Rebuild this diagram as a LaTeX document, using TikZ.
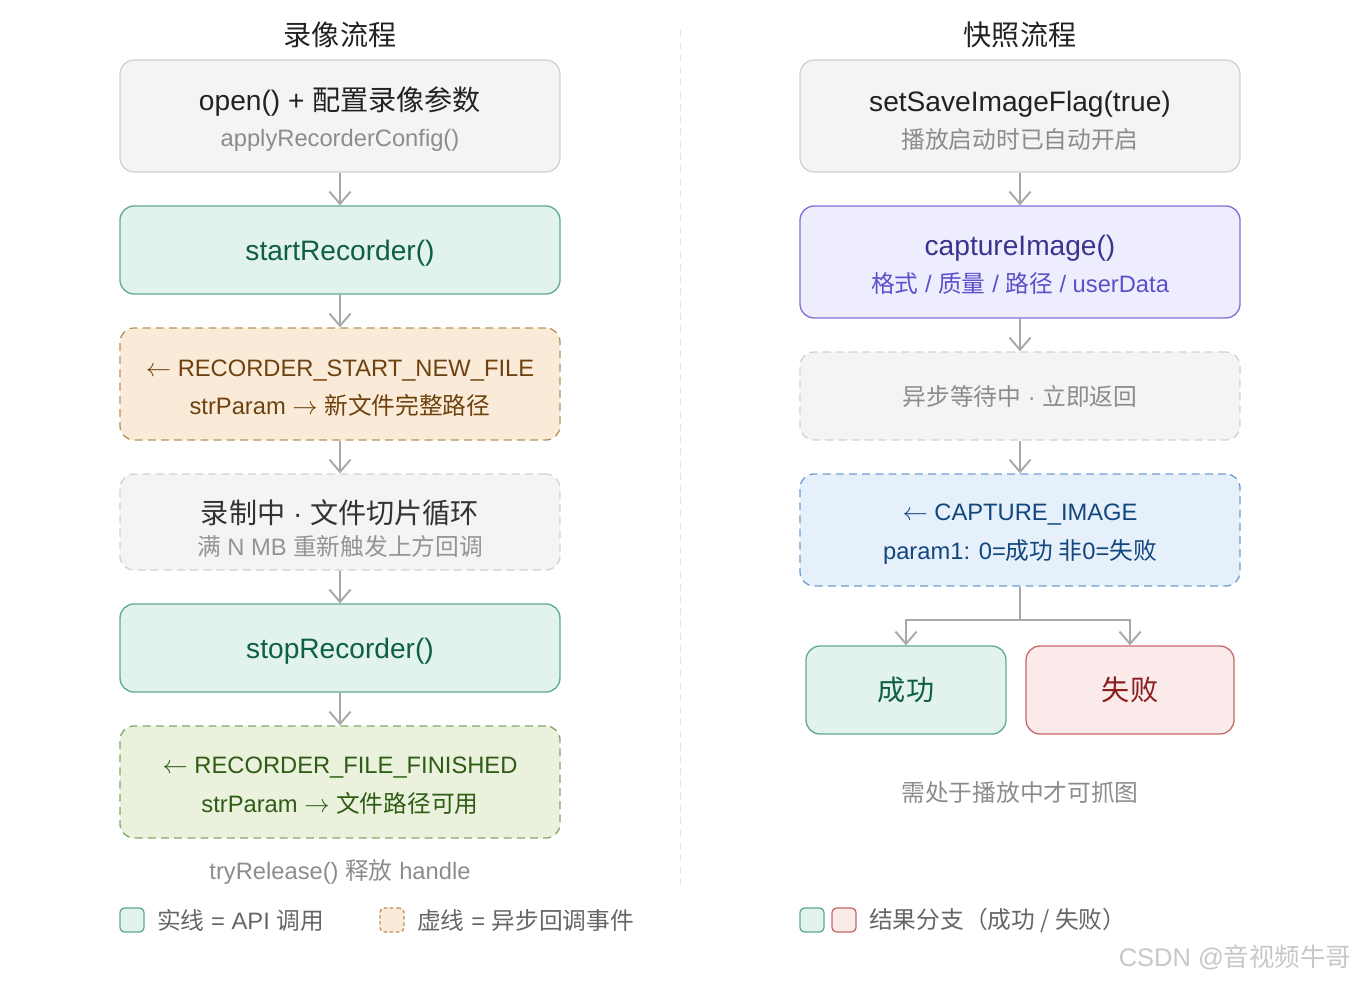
\documentclass[tikz,border=0pt]{standalone}
\usepackage{fontspec}
\setmainfont{Liberation Sans}
\newfontfamily\zhfont{Noto Sans CJK SC}
\newcommand{\zh}[1]{{\zhfont #1}}
\newcommand{\mainsize}{\fontsize{16}{19}\selectfont}
\newcommand{\subsize}{\fontsize{13.5}{16}\selectfont}
\newcommand{\topstrut}[1]{\rule{0pt}{#1}}
\usepackage{xcolor}
\definecolor{fgray}{HTML}{F4F4F2}
\definecolor{dgray}{HTML}{D2D2CF}
\definecolor{tdark}{HTML}{222222}
\definecolor{tgray}{HTML}{8C8C8C}
\definecolor{fteal}{HTML}{E1F3EC}
\definecolor{dteal}{HTML}{5FAA90}
\definecolor{tteal}{HTML}{0F5E47}
\definecolor{forange}{HTML}{FAEBD8}
\definecolor{dorange}{HTML}{B8925E}
\definecolor{torange}{HTML}{6E4210}
\definecolor{folive}{HTML}{EAF2DD}
\definecolor{dolive}{HTML}{82A865}
\definecolor{tolive}{HTML}{2E5C14}
\definecolor{fpurple}{HTML}{EEEDFD}
\definecolor{dpurple}{HTML}{7C70D6}
\definecolor{tpurple}{HTML}{3A3390}
\definecolor{spurple}{HTML}{5B50CC}
\definecolor{fblue}{HTML}{E6F0FB}
\definecolor{dblue}{HTML}{6E9ED2}
\definecolor{tblue}{HTML}{12467E}
\definecolor{fred}{HTML}{FBEAEA}
\definecolor{dred}{HTML}{C46A6A}
\definecolor{tred}{HTML}{8A1C1C}
\definecolor{arrgray}{HTML}{A8A8A8}
\usetikzlibrary{arrows.meta}

\begin{document}
\begin{tikzpicture}[
    apibox/.style={rectangle, rounded corners=8pt, draw=dteal, fill=fteal, line width=0.75pt,
                   minimum width=8.8cm, minimum height=1.76cm, align=center,
                   font=\mainsize, text=tteal},
    plainbox/.style={rectangle, rounded corners=8pt, draw=dgray, fill=fgray, line width=0.75pt,
                   minimum width=8.8cm, minimum height=2.24cm, align=center,
                   font=\mainsize, text=tdark},
    cbbox/.style={rectangle, rounded corners=8pt, dash pattern=on 4.5pt off 3pt, line width=0.75pt,
                   minimum width=8.8cm, minimum height=2.24cm, align=center,
                   font=\subsize},
    resbox/.style={rectangle, rounded corners=8pt, line width=0.75pt,
                   minimum height=1.76cm, align=center, font=\mainsize},
    keybox/.style={rectangle, rounded corners=2.5pt, line width=0.75pt,
                   minimum width=0.48cm, minimum height=0.48cm, inner sep=0pt},
    note/.style={font=\subsize, text=tgray},
    flow/.style={-{Straight Barb[length=7pt, width=12pt, line width=1.1pt]}, line width=1.1pt, arrgray}
  ]
    \useasboundingbox (0,0) rectangle (27.2,-19.6);

    % Column titles and divider
    \node[font=\mainsize, text=tdark] (ltitle) at (6.8, -0.70) {\zh{录像流程}};
    \node[font=\mainsize, text=tdark] (rtitle) at (20.4, -0.70) {\zh{快照流程}};
    \draw[dgray!60, dash pattern=on 4pt off 3pt, line width=0.5pt] (13.6, -0.6) -- (13.6, -17.7);

    % Left: recording
    \node[plainbox] (open) at (6.8, -2.32)
      {\topstrut{17pt}open() + \zh{配置录像参数}\\[2pt]{\subsize\color{tgray}applyRecorderConfig()}};
    \node[apibox, text height=15pt] (start) at (6.8, -5.00) {startRecorder()};
    \node[cbbox, fill=forange, draw=dorange, text=torange] (newfile) at (6.8, -7.68)
      {\topstrut{14pt}$\leftarrow$ RECORDER\_START\_NEW\_FILE\\[6pt]strParam $\rightarrow$ \zh{新文件完整路径}};
    \node[cbbox, fill=fgray, draw=dgray, minimum height=1.92cm, font=\mainsize, text=black!80] (loop) at (6.8, -10.44)
      {\topstrut{21pt}\zh{录制中} · \zh{文件切片循环}\\[-1pt]{\subsize\color{black!42}\zh{满} N MB \zh{重新触发上方回调}}};
    \node[apibox, text height=15pt] (stop) at (6.8, -12.96) {stopRecorder()};
    \node[cbbox, fill=folive, draw=dolive, text=tolive] (finished) at (6.8, -15.64)
      {\topstrut{14pt}$\leftarrow$ RECORDER\_FILE\_FINISHED\\[6pt]strParam $\rightarrow$ \zh{文件路径可用}};
    \node[note] (release) at (6.8, -17.44) {tryRelease() \zh{释放} handle};

    \draw[flow] (open.south) -- (start.north);
    \draw[flow] (start.south) -- (newfile.north);
    \draw[flow] (newfile.south) -- (loop.north);
    \draw[flow] (loop.south) -- (stop.north);
    \draw[flow] (stop.south) -- (finished.north);

    % Right: snapshot
    \node[plainbox] (flag) at (20.4, -2.32)
      {\topstrut{17pt}setSaveImageFlag(true)\\[2pt]{\subsize\color{tgray}\zh{播放启动时已自动开启}}};
    \node[apibox, fill=fpurple, draw=dpurple, text=tpurple, minimum height=2.24cm] (capture) at (20.4, -5.24)
      {\topstrut{15pt}captureImage()\\[2pt]{\subsize\color{spurple}\zh{格式} / \zh{质量} / \zh{路径} / userData}};
    \node[cbbox, fill=fgray, draw=dgray, minimum height=1.76cm, text=tgray] (wait) at (20.4, -7.92)
      {\zh{异步等待中} · \zh{立即返回}};
    \node[cbbox, fill=fblue, draw=dblue, text=tblue] (capimg) at (20.4, -10.60)
      {\topstrut{14pt}$\leftarrow$ CAPTURE\_IMAGE\\[6pt]param1: 0=\zh{成功 非}0=\zh{失败}};
    \coordinate (split) at (20.4, -12.4);
    \node[resbox, fill=fteal, draw=dteal, text=tteal, minimum width=4.0cm] (ok) at (18.12, -13.8) {\zh{成功}};
    \node[resbox, fill=fred, draw=dred, text=tred, minimum width=4.16cm] (fail) at (22.6, -13.8) {\zh{失败}};
    \node[note] (playing) at (20.4, -15.84) {\zh{需处于播放中才可抓图}};

    \draw[flow] (flag.south) -- (capture.north);
    \draw[flow] (capture.south) -- (wait.north);
    \draw[flow] (wait.south) -- (capimg.north);
    \draw[line width=1.1pt, arrgray] (capimg.south) -- (split);
    \draw[flow] (split) -| (ok.north);
    \draw[flow] (split) -| (fail.north);

    % Legend
    \node[keybox, fill=fteal, draw=dteal] (key1) at (2.64, -18.4) {};
    \node[note, anchor=west, text=black!60] (key1t) at (3.02, -18.4) {\zh{实线} = API \zh{调用}};
    \node[keybox, fill=forange, draw=dorange, dash pattern=on 2pt off 1.5pt] (key2) at (7.84, -18.4) {};
    \node[note, anchor=west, text=black!60] (key2t) at (8.22, -18.4) {\zh{虚线} = \zh{异步回调事件}};
    \node[keybox, fill=fteal, draw=dteal] (key3) at (16.24, -18.4) {};
    \node[keybox, fill=fred, draw=dred] (key4) at (16.88, -18.4) {};
    \node[note, anchor=west, text=black!60] (key3t) at (17.26, -18.4) {\zh{结果分支（成功 / 失败）}};

    % Watermark
    \node[font=\fontsize{14.5}{17}\selectfont, text=black!22, anchor=east] (mark) at (27.15, -19.14) {CSDN @\zh{音视频牛哥}};
  \end{tikzpicture}
\end{document}
